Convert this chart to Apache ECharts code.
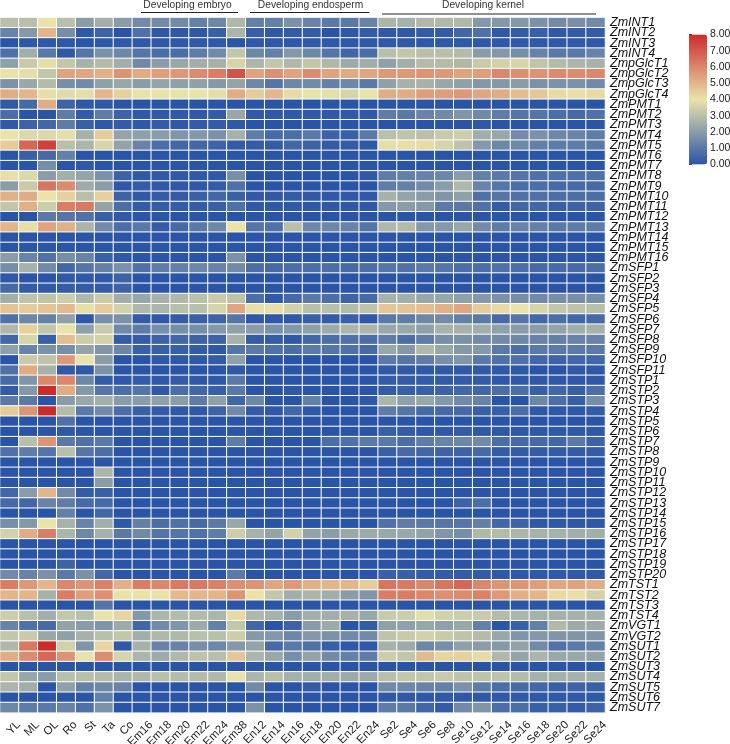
<!DOCTYPE html>
<html><head><meta charset="utf-8">
<style>html,body{margin:0;padding:0;background:#fff}#c{width:730px;height:744px}</style>
<script src="https://cdn.jsdelivr.net/npm/echarts@6/dist/echarts.min.js"></script>
</head><body><div id="c"></div>
<script>
const samples = ['YL','ML','OL','Ro','St','Ta','Co','Em16','Em18','Em20','Em22','Em24','Em38','En12','En14','En16','En18','En20','En22','En24','Se2','Se4','Se6','Se8','Se10','Se12','Se14','Se16','Se18','Se20','Se22','Se24'];
const genes = ['ZmINT1','ZmINT2','ZmINT3','ZmINT4','ZmpGlcT1','ZmpGlcT2','ZmpGlcT3','ZmpGlcT4','ZmPMT1','ZmPMT2','ZmPMT3','ZmPMT4','ZmPMT5','ZmPMT6','ZmPMT7','ZmPMT8','ZmPMT9','ZmPMT10','ZmPMT11','ZmPMT12','ZmPMT13','ZmPMT14','ZmPMT15','ZmPMT16','ZmSFP1','ZmSFP2','ZmSFP3','ZmSFP4','ZmSFP5','ZmSFP6','ZmSFP7','ZmSFP8','ZmSFP9','ZmSFP10','ZmSFP11','ZmSTP1','ZmSTP2','ZmSTP3','ZmSTP4','ZmSTP5','ZmSTP6','ZmSTP7','ZmSTP8','ZmSTP9','ZmSTP10','ZmSTP11','ZmSTP12','ZmSTP13','ZmSTP14','ZmSTP15','ZmSTP16','ZmSTP17','ZmSTP18','ZmSTP19','ZmSTP20','ZmTST1','ZmTST2','ZmTST3','ZmTST4','ZmVGT1','ZmVGT2','ZmSUT1','ZmSUT2','ZmSUT3','ZmSUT4','ZmSUT5','ZmSUT6','ZmSUT7'];
const groupLabels = ['Developing embryo','Developing endosperm','Developing kernel'];

const intRows = [
[3,3,4,3,2,2.5,2,1.5,1.5,1.5,1.2,1.4,2.8,1.2,1.2,1.7,1.3,1,1,1.3,2.7,2.6,2.8,2.8,2.8,1.9,1.9,1.9,1.7,1.5,1.6,1.5],
[1.3,1.9,5,1.6,.1,.4,0,.8,.1,.1,.1,.3,2.7,.3,.1,.2,.2,0,.1,.2,.1,.1,.2,.2,.5,.8,.1,.2,.3,.1,.2,.2],
[0,.1,.1,.1,0,.1,.1,.1,.1,.1,.1,.1,0,.1,.1,.1,.1,.1,.1,.1,.1,.1,.1,.1,.1,.1,.1,.1,.1,.1,.1,.1],
[.8,2.5,1,.1,.9,1.7,1.4,.9,.7,.7,1.1,1.5,3.2,1.4,1.2,1.9,1.4,.9,.5,.7,3,3.2,3,3,2.9,2,1.9,1.6,1.3,1,1,1.3]];
const glcRows = [
[2.1,3.3,3.9,3.2,2.6,2.9,2.5,1.5,2,2.3,2.5,2.6,3.6,2.7,3.2,2.8,3.2,2.8,2.4,2.5,2.1,2.5,2.9,2.9,2.8,3.3,3.5,3.6,3.1,2.9,2.7,2.6],
[4,3.9,3.2,5.4,5.3,5.1,5.7,5.2,5.5,5.6,5.9,6.2,7.1,5.4,5.8,5.4,5.9,5.4,5.2,5.3,5.6,5.6,5.7,5.6,5.4,5.5,6,5.8,5.7,5.9,5.9,6],
[1.7,2.3,2.9,1.6,1.5,2.1,2.3,2,2.2,2.1,2.1,1.9,2.2,1.4,.9,1.4,1.5,1.2,1.4,1,2.1,2.6,2.6,2.3,2.1,1.9,1.9,2,1.7,1.7,1.7,1.5],
[5.2,5,3.9,3.8,3.9,5,4.4,4,4,4,4,3.9,5.2,4.5,5,4.2,4,3.9,3.6,4,5.2,5.2,5.5,5.5,5.6,5.3,5.2,4.8,4.6,4.2,4.1,4.2]];
const pmtRows = [
[.1,.6,5.2,.4,.1,.1,0,0,0,0,0,0,0,0,0,0,0,0,0,0,0,0,0,0,0,0,0,0,0,0,0,0],
[.7,0,0,1.1,.2,1.1,.4,.1,.1,.1,.1,.2,2.3,.1,.1,.1,.1,.1,.1,.1,1.1,1,1.3,1.5,1.8,1.5,1.1,.9,.9,.7,.6,.8],
[.1,.4,.5,1.1,.3,.1,.2,.1,.2,.1,.2,.2,.1,0,0,0,0,0,0,0,0,0,0,0,0,.1,0,0,0,0,0,0],
[4,3.7,3.7,3.9,2.6,4.5,2.2,2.1,2,1.8,1.9,1.7,2.6,1.1,.6,.7,1,.4,.3,1,3,3.1,3,3.3,3.4,2.5,2.3,1.5,1.7,1.4,1.3,1.1],
[4.5,6.7,7.5,3,2.7,3.6,2.2,1.3,.7,.5,.5,.4,.2,.2,.2,.5,.4,.2,.2,.1,3.9,4.1,4.2,3.6,3.1,1.9,1.4,1.4,1.2,1.1,1.1,1],
[0,.3,.6,1.2,0,0,0,0,0,0,0,0,0,0,0,0,0,0,0,0,0,0,0,0,0,0,0,0,0,0,0,0],
[0,0,1.6,0,.1,0,0,0,0,0,0,0,0,0,0,0,0,0,0,0,0,0,0,0,0,0,0,0,0,0,0,0],
[4.1,3.7,2,2.5,2.2,1.7,.4,.1,.1,.1,.1,.1,1.6,0,0,0,0,0,0,.1,1.1,1.2,1.3,1.4,2,1.2,1,.9,.8,.8,.8,.8],
[2,3.3,6.4,5.9,2.4,2,.1,.2,.1,.1,.1,.2,.8,0,0,0,0,0,0,0,1.1,1.2,1.5,2,2.8,1.3,.9,.7,.7,.6,.6,.6],
[5.1,5.2,4,4.4,3,4.4,.4,.1,.2,.2,.3,.5,.3,.1,.1,.2,.1,.1,.1,.1,2.6,2.2,2,1.8,2.1,.8,.9,.8,.8,.7,.7,.7],
[3.2,5.1,3.4,6.2,6.3,2.2,.7,.2,.2,.2,.2,.3,.8,.1,.1,.1,.1,.1,.1,.1,1.9,2,1.9,1,1,.8,.2,.5,.5,.3,.4,.4],
[0,0,1,.9,.8,.3,.1,0,0,0,0,0,0,0,0,0,0,0,0,0,0,0,0,0,0,0,0,0,0,0,0,0],
[5,4.1,5.4,5.1,2.7,1.5,.7,1,.2,.6,1,1.4,4,.9,.8,3,1.4,1.4,1.3,.9,2.8,2.9,1.9,1.9,2.3,1.5,1.1,1.3,1.2,1,1.1,1.1],
[0,0,0,0,0,0,0,0,0,0,0,0,0,0,0,0,0,0,0,0,0,0,0,0,0,0,0,0,0,0,0,0],
[0,0,0,0,0,0,0,0,0,0,0,0,0,0,0,0,0,0,0,0,0,0,0,0,0,0,0,0,0,0,0,0],
[2,1.3,.8,1.6,1.3,.3,.1,0,0,0,0,0,1.7,0,0,0,0,0,0,0,0,0,0,0,0,0,0,0,0,0,0,0]];
const sfpRows = [
[1.6,2.6,1.5,.5,.9,1.2,1.7,.8,1.1,1.2,1.4,1.3,1.5,.7,.6,.7,.7,.7,.6,.7,.9,.8,1,.9,.7,.7,.8,.7,.6,.6,.6,.7],
[.1,0,0,.1,.1,.1,.4,0,0,0,0,0,0,0,0,0,0,0,0,0,0,0,0,0,0,0,0,0,0,0,0,0],
[.6,.2,.1,.2,.2,.2,.4,0,0,0,0,0,0,0,0,0,0,0,0,0,0,0,0,0,0,0,0,0,0,0,0,0],
[2.5,3.1,3.1,3.4,2.8,3.3,2.5,2.3,2.6,2.8,3,3.3,3.1,.7,.1,.6,1,.7,.4,.6,2.6,2.5,2.3,2.3,2.1,1.9,1.7,1.6,1.5,1.6,1.6,1.6],
[4.7,4.5,4.7,4.9,4.1,4.5,3.5,2.8,2.7,3,3,3.6,5.3,4.1,4.1,3.5,3,3,2.9,3.1,4.6,4.7,4.8,5.1,5.3,4.5,4.2,4,3.6,3.2,3.1,3],
[.8,1.4,1.2,2.1,.1,1.6,1.7,.2,.1,.2,.3,.4,.9,.1,.1,.1,.3,.2,.3,.1,1,1.1,1.4,1.5,1.2,1,.6,.9,.5,.7,.5,.6],
[2.8,4.4,3.2,4,2.1,3.3,1.5,1.1,1.6,1.6,1.6,1.9,2.1,2,1.7,1.9,2.1,2.4,2.7,2.7,2.3,2.3,2.1,2.6,2.6,2.5,2.1,2,2,2.2,2.5,2.6],
[.5,3.6,.3,4.8,3.4,3.5,.2,.2,.4,.5,.4,.4,2.6,.2,.2,.1,.5,.7,.8,.7,1.1,.7,1.1,1.6,1.7,1.5,1.5,1.4,1.3,1.2,1.3,1.3],
[2.1,1.3,1.7,1.6,2.2,1.8,1.4,.3,.3,.3,.2,.1,.9,1,.8,.7,1,.9,.8,.6,2.3,1.9,2.8,2.3,1.9,1.9,1,.7,1,1,1,1],
[0,3.3,3.1,5.6,4,2,0,0,.1,.1,.1,.2,2.1,0,0,0,0,0,0,0,1,.9,1.1,1.6,1.8,1,.8,.8,.5,.4,.5,.5],
[.8,5.2,2.6,.1,.1,1.7,0,0,0,0,0,0,.1,0,0,0,0,0,0,0,.1,.1,.1,.1,.1,.1,.1,.1,0,0,.1,.1]];
const stpRows = [
[.6,1.8,6,6,1.4,.2,.1,.2,.1,.2,.1,.1,1,0,0,0,0,0,0,0,.2,.2,.2,.2,.2,.2,.1,.1,.1,.1,.1,.1],
[.2,1.9,8,5.2,1.9,.9,.7,.9,.1,.7,.5,.3,1,0,0,.1,0,0,0,0,.2,.3,.3,.4,.5,.5,.7,.7,.3,.5,.3,.7],
[1,1,0,2,2.3,2.5,2,2,2.1,2,1.1,2.1,.5,1.4,0,0,1.2,0,0,.1,2.7,2.1,2.3,1.9,1.5,1.3,0,0,1.4,.7,.3,1.6],
[4.5,5.7,8,2.9,1,1.5,.7,.3,.2,.1,.1,.4,1.5,.2,.1,.5,.1,0,0,0,1.1,.9,.6,.6,.6,.3,.3,.7,.1,.1,.1,.2],
[0,0,0,.8,0,0,0,0,0,0,0,0,0,0,0,0,0,0,0,0,0,0,0,0,0,0,0,0,0,0,0,0],
[0,0,0,.1,0,0,0,0,0,0,0,0,0,0,0,0,0,0,0,0,.3,.2,.1,.1,.2,.1,.1,.1,.1,.1,.1,.1],
[0,3,5.7,1,.8,1,0,0,0,0,0,0,1.1,0,0,0,0,.7,.8,1,1,.7,1.1,1.3,1.4,1.5,.7,.6,.6,.5,1,.4],
[.8,1.1,.9,3,.9,.7,0,0,0,0,0,0,0,0,0,0,0,0,0,0,.3,.6,.5,.4,.4,.6,.2,.2,.2,.2,.2,.2],
[0,0,0,0,0,0,0,0,0,0,0,0,0,0,0,0,0,0,0,0,0,0,0,0,0,0,0,0,0,0,0,0],
[0,0,0,0,0,2.7,0,0,0,0,0,0,0,0,0,0,0,0,0,0,0,0,0,0,0,0,0,0,0,0,0,0],
[0,0,0,0,0,2,0,0,0,0,0,0,0,0,0,0,0,0,0,0,0,0,0,0,0,0,0,0,0,0,0,0],
[.5,2,5,1.5,.2,.3,0,0,0,0,0,0,0,0,0,0,0,0,0,0,0,0,0,0,0,0,0,0,0,0,0,0],
[.6,.5,1.3,1.1,.6,.6,0,0,0,0,0,0,0,0,0,0,0,0,0,0,0,0,0,0,.4,.7,0,0,0,0,0,0],
[0,0,0,1.2,0,.5,0,0,0,0,0,0,0,0,0,0,0,0,0,0,0,0,0,0,0,0,0,0,0,0,0,0],
[1.6,1.9,4,2.6,1.3,2.5,.1,1.2,.7,.8,.6,1,2.3,0,0,0,0,0,0,0,.8,1.1,1,.9,.9,1.2,.5,.4,.1,.1,.1,.1],
[3.5,5.2,6.2,2.7,1.4,2.6,1,1.5,.9,.9,.8,1.1,3.4,2.6,2.2,3.5,2.2,2,2.3,2.4,2.3,2.3,2.2,1.8,1.6,2.8,2.9,2.7,2.6,2.6,2.5,2.5],
[0,0,0,0,0,0,0,0,0,0,0,0,0,0,0,0,0,0,0,0,0,0,0,0,0,0,0,0,0,0,0,0],
[0,0,0,0,0,0,0,0,0,0,0,0,0,0,0,0,0,0,0,0,0,0,0,0,0,0,0,0,0,0,0,0],
[0,0,0,.4,0,0,0,0,0,0,0,0,0,0,0,0,0,0,0,0,0,0,0,0,0,0,0,0,0,0,0,0],
[1.5,1.3,1.7,1,1.7,.5,0,0,0,0,0,0,1,0,0,0,0,0,0,0,.3,.3,.2,.2,.2,.2,.1,.1,.1,.1,.1,.1]];
const tstRows = [
[6.2,5.6,5,6,5.7,6.1,5.1,6.2,6,6.3,6.3,6.1,5.8,5.7,5.3,5.6,5.1,5,5,4.5,6.4,6.3,6,6.4,6.7,6,5.7,5.7,5.5,5.3,5.4,5.2],
[5,5,2.6,6.2,5.5,5.8,4,4,4,4.9,5,5,5.7,4,3.2,2.5,2.7,2.5,2,1.8,6.2,6.2,6,5.8,5.9,6.1,5.6,5.1,5,4.2,4.1,3.5],
[0,0,0,0,0,.9,0,0,0,0,0,0,0,0,0,0,0,0,0,0,0,0,0,0,0,0,0,0,0,0,0,0],
[3.4,3,2.5,3.2,3,4,4.3,1.9,2.7,2.9,2.9,2.7,4.2,2.8,2.6,2,2.5,2.5,2.6,2.3,3.3,3.4,3.9,3.5,3.4,3.3,2.9,2.7,2.6,2.6,2.6,2.6]];
const vgtRows = [
[1.3,.8,.6,2.2,2,1.8,2.4,.5,1.5,1.8,2.4,1.2,3.2,.5,0,.4,2,2.4,0,.2,2.1,2.1,2.3,2.1,2.3,1.2,0,.3,1.2,2.8,2.4,2.4],
[3.2,3.3,2.3,2.1,2.6,3,3.2,2.5,2.8,2.8,3,3,3.4,1.9,1.9,1.4,1.9,1.7,1.5,1.5,3.1,3.3,3.5,3.3,3.1,2.9,2.3,1.8,1.9,1.8,1.8,1.8]];
const sutRows = [
[2.8,6.3,8,3.5,1.8,4.3,.1,2.6,1.3,1.3,1.6,1.4,1.9,2.2,.6,1,.8,.3,.1,.1,2.6,2.4,1.4,1.6,2.1,2,1.9,2.2,1.5,.8,1,1.2],
[5.2,5.9,6.7,5.7,4,5.9,3.6,2.7,2.4,2.8,3.1,3,4.6,2.7,2.3,1.6,2.2,1.5,1.2,1.1,3.4,3.2,4.9,4.3,4.4,4.2,2.8,2.2,2.7,2.3,2.3,2.2],
[0,0,0,0,0,0,0,0,0,0,0,0,0,0,0,0,0,0,0,0,0,0,0,0,0,0,0,0,0,0,0,0],
[3.2,2.3,2,3,3,2.9,2.7,2.8,3,2.9,2.9,2.8,4,2.7,3,2.6,2.5,2.5,2.4,2.4,3,3.2,3.2,3.3,3.1,3.1,3.1,2.9,2.6,2.6,2.6,2.6],
[2.7,2.5,0,2.1,1.2,1.4,1.3,0,0,0,0,0,0,1.5,0,0,.2,0,0,0,1.5,1.4,1.3,1.2,1.7,1.1,.7,.6,.5,.3,.4,.3],
[0,0,0,0,0,1.2,0,0,0,0,0,0,0,0,0,0,0,0,0,0,.1,.1,.1,.1,.1,.1,.1,.1,.1,.1,.1,.1],
[1.4,1.1,1,1.3,.8,1.7,0,0,0,0,0,0,0,1.7,0,0,0,0,0,0,1.1,1,.5,.2,1.5,1.8,.7,.7,.3,.3,.2,.4]];

const rows = [...intRows,...glcRows,...pmtRows,...sfpRows,...stpRows,...tstRows,...vgtRows,...sutRows];
const cells = [];
rows.forEach((r,y)=>r.forEach((v,x)=>cells.push([x,y,v])));
const FONT = '"Liberation Sans", Arial, sans-serif';
const headerLine = (x1,x2,y)=>({type:'line',shape:{x1,y1:y,x2,y2:y},style:{stroke:'#222',lineWidth:1},silent:true});
const headerText = (s,x,y)=>({type:'text',x,y,style:{text:s,font:'10.25px '+FONT,fill:'#333',textAlign:'center',textVerticalAlign:'middle'},silent:true});
const chart = echarts.init(document.getElementById('c'),null,{renderer:'canvas'});
chart.setOption({
 animation:false,
 backgroundColor:'#fff',
 grid:[
  {left:0,top:17.5,width:605,height:695.2,containLabel:false,outerBoundsMode:'none'},
  {left:689,top:34.5,width:18,height:130,containLabel:false,outerBoundsMode:'none'}
 ],
 xAxis:[
  {type:'category',gridIndex:0,data:samples,position:'bottom',axisLine:{show:false},axisTick:{show:false},splitLine:{show:false},
   axisLabel:{interval:0,rotate:45,align:'right',verticalAlign:'top',padding:[7,0,0,0],fontFamily:FONT,fontSize:11.5,color:'#222',margin:1,hideOverlap:false}},
  {type:'value',gridIndex:1,show:false,min:0,max:1}
 ],
 yAxis:[
  {type:'category',gridIndex:0,data:genes,inverse:true,position:'right',axisLine:{show:false},axisTick:{show:false},splitLine:{show:false},
   axisLabel:{interval:0,fontFamily:FONT,fontStyle:'italic',fontSize:12.5,color:'#111',margin:5,hideOverlap:false}},
  {type:'value',gridIndex:1,position:'right',min:0,max:8,interval:1,
   axisLine:{show:true,lineStyle:{color:'#333',width:1}},axisTick:{show:true,length:3,inside:false,lineStyle:{color:'#333'}},splitLine:{show:false},
   axisLabel:{fontFamily:FONT,fontSize:10.5,color:'#222',margin:3,formatter:v=>v.toFixed(2),showMinLabel:true,showMaxLabel:true}}
 ],
 visualMap:{type:'continuous',min:0,max:8,seriesIndex:0,calculable:false,realtime:false,silent:true,
   left:689,top:34.5,itemWidth:18,itemHeight:130,text:['',''],textGap:0,padding:0,orient:'vertical',
   hoverLink:false,indicatorSize:0,indicatorStyle:{opacity:0},inRange:{color:['#2a55a6','#e9e3aa','#cb2b2b']},textStyle:{fontSize:0,color:'transparent'}},
 series:[
  {type:'heatmap',xAxisIndex:0,yAxisIndex:0,data:cells,silent:true,progressive:0,
   itemStyle:{borderColor:'#fff',borderWidth:1},emphasis:{disabled:true}}
 ],
 graphic:[
  headerLine(141,238,12.5),headerLine(250,369.5,12.5),headerLine(382,596,14),
  headerText(groupLabels[0],187.5,5),headerText(groupLabels[1],310.5,5),headerText(groupLabels[2],483,5)
 ]
});
</script></body></html>
